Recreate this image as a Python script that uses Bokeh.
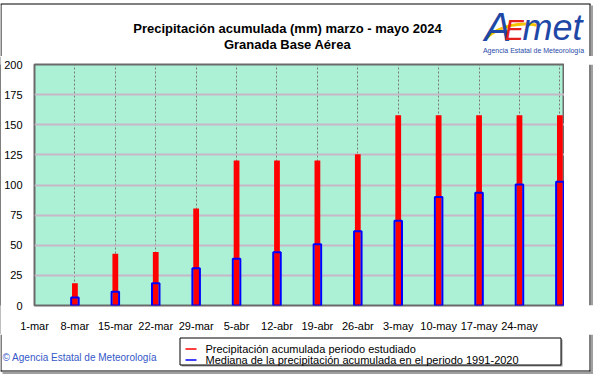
from bokeh.plotting import figure
from bokeh.layouts import column, row
from bokeh.models import Range1d, FixedTicker, Label, ColumnDataSource
from bokeh.embed import file_html
from bokeh.resources import INLINE

# ---- data ----
week_labels = ["8-mar", "15-mar", "22-mar", "29-mar", "5-abr", "12-abr", "19-abr",
               "26-abr", "3-may", "10-may", "17-may", "24-may", "31-may"]
day_offsets = [7, 14, 21, 28, 35, 42, 49, 56, 63, 70, 77, 84, 91]
precip_2024 = [18.4, 42.9, 44.3, 80.4, 120.4, 120.4, 120.4, 125.6, 157.8, 157.8, 157.8, 157.8, 157.8]
median_1991_2020 = [6.6, 11.4, 18.5, 31.0, 38.7, 44.1, 50.9, 61.6, 70.3, 90.0, 93.5, 100.5, 102.7]
tick_days = [0, 7, 14, 21, 28, 35, 42, 49, 56, 63, 70, 77, 84]
tick_labels = ["1-mar", "8-mar", "15-mar", "22-mar", "29-mar", "5-abr", "12-abr",
               "19-abr", "26-abr", "3-may", "10-may", "17-may", "24-may"]
y_ticks = [0, 25, 50, 75, 100, 125, 150, 175, 200]

title1 = "Precipitación acumulada (mm) marzo - mayo 2024"
title2 = "Granada Base Aérea"
legend_red = "Precipitación acumulada periodo estudiado"
legend_blue = "Mediana de la precipitación acumulada en el periodo 1991-2020"
footer_text = "© Agencia Estatal de Meteorología"
logo_sub = "Agencia Estatal de Meteorología"

FONT = "Liberation Sans"
W = 593
FRAME = "#000000"
SHADOW = "#a0a0a0"


def helper(width, height, xr, yr):
    f = figure(width=width, height=height, output_backend="svg", toolbar_location=None,
               x_range=Range1d(*xr), y_range=Range1d(*yr),
               x_axis_location=None, y_axis_location=None,
               min_border=0, min_border_left=0, min_border_right=0,
               min_border_top=0, min_border_bottom=0)
    f.grid.visible = False
    f.outline_line_color = None
    f.background_fill_color = "white"
    f.border_fill_color = "white"
    return f


def lab(f, text, x, y, size, color="black", style="normal", align="center",
        baseline="middle"):
    f.add_layout(Label(x=x, y=y, text=text, text_font=FONT, text_font_size=size,
                       text_color=color, text_font_style=style,
                       text_align=align, text_baseline=baseline))


# ---- header ----
head = helper(W, 56, (8, 601), (56, 0))
head.segment(x0=[8, 8.5, 597.5], y0=[3.5, 3.5, 3.5], x1=[598, 8.5, 597.5], y1=[3.5, 56, 56],
             line_color=FRAME, line_width=1)
head.segment(x0=[599.5], y0=[5], x1=[599.5], y1=[56], line_color=SHADOW, line_width=2)
lab(head, title1, 295, 27.5, "13px", style="bold")
lab(head, title2, 295, 44, "13px", style="bold")
# logo
lab(head, "A", 492, 26, "40px", color="#1f47a6", style="italic", align="left")
head.bezier(x0=[493], y0=[38], x1=[546], y1=[25], cx0=[507], cy0=[25], cx1=[528], cy1=[21],
            line_color="#f5c400", line_width=3)
lab(head, "E", 512, 29, "29px", color="#e3201b", style="italic", align="left")
lab(head, "met", 530, 26.5, "36px", color="#1f47a6", style="italic", align="left")
lab(head, logo_sub, 541, 49.5, "7px", color="#2a4aa8")

# ---- main chart ----
src = ColumnDataSource(dict(x=day_offsets, label=week_labels,
                            obs=precip_2024, med=median_1991_2020))

p = figure(width=563, height=278, output_backend="svg", toolbar_location=None,
           x_range=Range1d(0, 91.8), y_range=Range1d(0, 200),
           min_border_left=25, min_border_right=0, min_border_top=8, min_border_bottom=23)
p.background_fill_color = "#acf0d6"
p.border_fill_color = "white"
p.outline_line_color = "#6a6a6a"
p.outline_line_width = 2

p.vbar(x="x", top="obs", bottom=0, width=1.0, source=src,
       fill_color="#ff0000", line_color=None)
p.vbar(x="x", top="med", bottom=0, width=1.3, source=src,
       fill_alpha=0, line_color="#0000ff", line_width=2)

for ax in (p.xaxis[0], p.yaxis[0]):
    ax.axis_line_color = None
    ax.major_tick_line_color = None
    ax.minor_tick_line_color = None
    ax.major_label_text_font = FONT
    ax.major_label_text_font_size = "11px"
    ax.major_label_text_color = "black"
p.xaxis.ticker = FixedTicker(ticks=tick_days)
p.xaxis.major_label_overrides = {d: l for d, l in zip(tick_days, tick_labels)}
p.xaxis.major_label_standoff = 8
p.yaxis.ticker = FixedTicker(ticks=y_ticks)
p.yaxis.major_label_standoff = 6

p.xgrid.ticker = FixedTicker(ticks=day_offsets)
p.xgrid.grid_line_color = "#7a7a7a"
p.xgrid.grid_line_dash = "2 2"
p.xgrid.grid_line_width = 1
p.ygrid.ticker = FixedTicker(ticks=y_ticks[1:])
p.ygrid.grid_line_color = "#c6b8c6"
p.ygrid.grid_line_width = 2

left_edge = figure(width=1, height=278, output_backend="svg", toolbar_location=None,
                   x_axis_location=None, y_axis_location=None, min_border=0,
                   min_border_left=0, min_border_right=0, min_border_top=0, min_border_bottom=0)
left_edge.grid.visible = False
left_edge.outline_line_color = None
left_edge.background_fill_color = FRAME
left_edge.border_fill_color = FRAME

right_edge = helper(29, 278, (572, 601), (334, 56))
right_edge.segment(x0=[597.5, 599.5], y0=[56, 56], x1=[597.5, 599.5], y1=[334, 334],
                   line_color=[FRAME, SHADOW], line_width=[1, 2])

# ---- footer ----
foot = helper(W, 40, (8, 601), (374, 334))
foot.segment(x0=[8.5, 597.5, 8], y0=[334, 334, 370.5], x1=[8.5, 597.5, 598], y1=[371, 371, 370.5],
             line_color=FRAME, line_width=1)
foot.segment(x0=[599.5, 10], y0=[334, 372.5], x1=[599.5, 601], y1=[373, 372.5],
             line_color=SHADOW, line_width=2)
foot.quad(left=[189], right=[570], top=[339], bottom=[366], fill_color="#9a9a9a", line_color=None)
foot.quad(left=[187.5], right=[568.5], top=[337.5], bottom=[364.5],
          fill_color="white", line_color="black", line_width=1)
foot.segment(x0=[193, 193], y0=[348.5, 359.5], x1=[204, 204], y1=[348.5, 359.5],
             line_color=["#ff0000", "#0000ff"], line_width=1.5)
lab(foot, legend_red, 213, 348.5, "11px", align="left")
lab(foot, legend_blue, 213, 359.5, "11px", align="left")
lab(foot, footer_text, 10, 357, "10px", color="#3558c8", align="left")

layout = column(head, row(left_edge, p, right_edge), foot)

open("out.html", "w").write(file_html(layout, INLINE))
